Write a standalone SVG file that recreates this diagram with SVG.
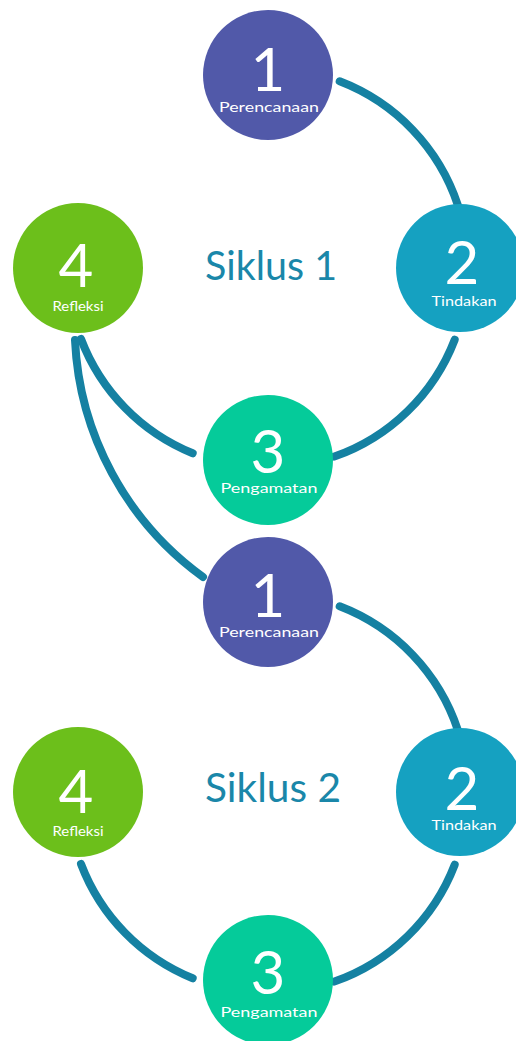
<svg xmlns="http://www.w3.org/2000/svg" width="516" height="1041" viewBox="0 0 516 1041">
  <style>
    .link { fill: none; stroke: #1581a2; stroke-width: 8; stroke-linecap: round; }
    .num { font-family: Lato, "Open Sans", "Liberation Sans", sans-serif; font-weight: 400; font-size: 60px; fill: #ffffff; text-anchor: middle; }
    .lbl { font-family: Lato, "Open Sans", "Liberation Sans", sans-serif; font-size: 14px; fill: #ffffff; text-anchor: middle; }
    .title { font-family: Lato, "Open Sans", "Liberation Sans", sans-serif; font-size: 40px; fill: #1a87a9; }
    .c1 { fill: #5159a9; }
    .c2 { fill: #15a1c1; }
    .c3 { fill: #05cb9a; }
    .c4 { fill: #6cbf1b; }
  </style>

  <!-- connectors -->
  <g id="connectors">
    <!-- cycle 1, ring centred at (268,268), r=200 -->
    <path class="link" d="M339.7,81.3 A200,200 0 0 1 457.9,205.2"/>
    <path class="link" d="M454.7,339.7 A200,200 0 0 1 334.4,456.6"/>
    <path class="link" d="M192.7,453.3 A200,200 0 0 1 81,339"/>
    <!-- link from cycle 1 reflection to cycle 2 planning -->
    <path class="link" d="M75,340 A310,310 0 0 0 203,577"/>
    <!-- cycle 2, ring centred at (268,793), r=200 -->
    <path class="link" d="M339.7,606.3 A200,200 0 0 1 457.9,730.2"/>
    <path class="link" d="M454.7,864.7 A200,200 0 0 1 334.4,981.6"/>
    <path class="link" d="M192.7,978.3 A200,200 0 0 1 81,864"/>
  </g>

  <!-- cycle 1 -->
  <text id="title-1" class="title" x="205" y="280" textLength="132" lengthAdjust="spacingAndGlyphs">Siklus 1</text>

  <g id="c1-perencanaan">
    <circle class="c1" cx="268" cy="75" r="65"/>
    <text class="num" x="268" y="91">1</text>
    <text class="lbl" x="269" y="112" textLength="100" lengthAdjust="spacingAndGlyphs">Perencanaan</text>
  </g>
  <g id="c1-tindakan">
    <circle class="c2" cx="460" cy="268" r="64"/>
    <text class="num" x="462" y="284">2</text>
    <text class="lbl" x="464" y="306" textLength="65" lengthAdjust="spacingAndGlyphs">Tindakan</text>
  </g>
  <g id="c1-pengamatan">
    <circle class="c3" cx="268" cy="460" r="65"/>
    <text class="num" x="268" y="473">3</text>
    <text class="lbl" x="269" y="493" textLength="97" lengthAdjust="spacingAndGlyphs">Pengamatan</text>
  </g>
  <g id="c1-refleksi">
    <circle class="c4" cx="78" cy="268" r="65"/>
    <text class="num" x="76" y="287">4</text>
    <text class="lbl" x="78" y="311" textLength="51" lengthAdjust="spacingAndGlyphs">Refleksi</text>
  </g>

  <!-- cycle 2 -->
  <text id="title-2" class="title" x="205" y="802" textLength="136" lengthAdjust="spacingAndGlyphs">Siklus 2</text>

  <g id="c2-perencanaan">
    <circle class="c1" cx="268" cy="602" r="65"/>
    <text class="num" x="268" y="617">1</text>
    <text class="lbl" x="269" y="637" textLength="100" lengthAdjust="spacingAndGlyphs">Perencanaan</text>
  </g>
  <g id="c2-tindakan">
    <circle class="c2" cx="460" cy="792" r="64"/>
    <text class="num" x="462" y="810">2</text>
    <text class="lbl" x="464" y="830" textLength="65" lengthAdjust="spacingAndGlyphs">Tindakan</text>
  </g>
  <g id="c2-pengamatan">
    <circle class="c3" cx="268" cy="980" r="65"/>
    <text class="num" x="268" y="994">3</text>
    <text class="lbl" x="269" y="1017" textLength="97" lengthAdjust="spacingAndGlyphs">Pengamatan</text>
  </g>
  <g id="c2-refleksi">
    <circle class="c4" cx="78" cy="792" r="65"/>
    <text class="num" x="76" y="813">4</text>
    <text class="lbl" x="78" y="836" textLength="51" lengthAdjust="spacingAndGlyphs">Refleksi</text>
  </g>
</svg>
